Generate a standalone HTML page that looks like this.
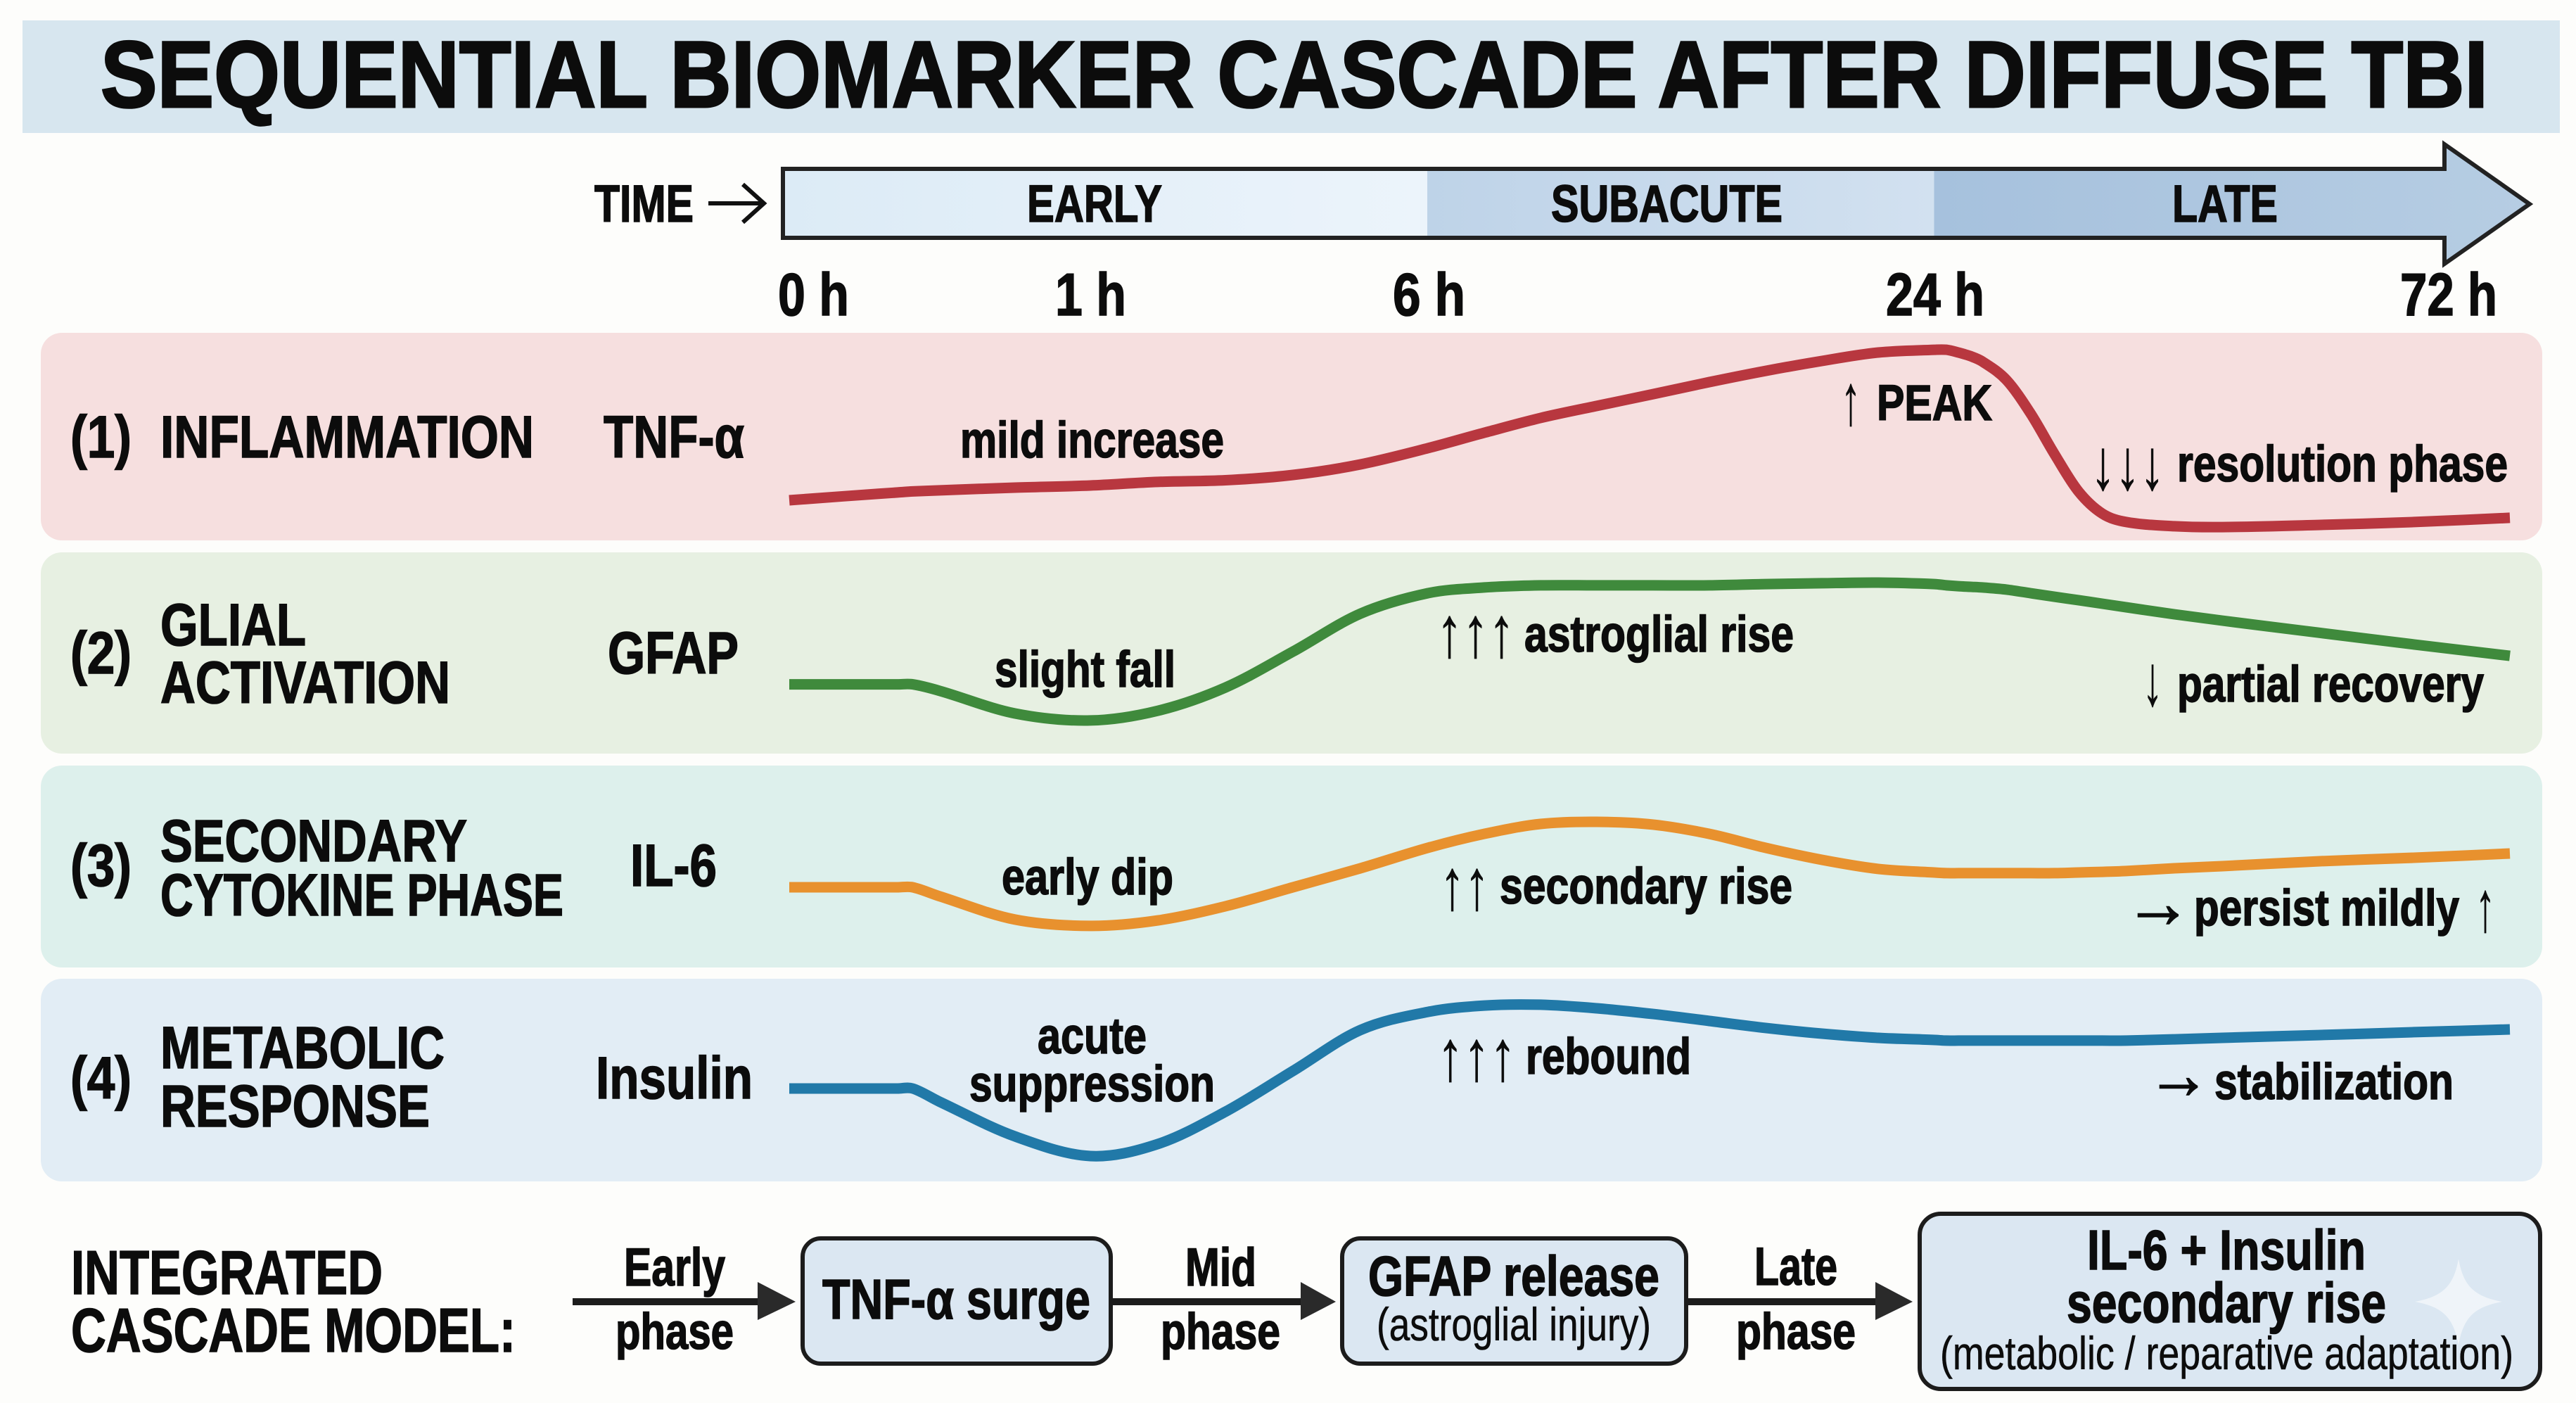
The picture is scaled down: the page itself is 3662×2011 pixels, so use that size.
<!DOCTYPE html>
<html lang="en">
<head>
<meta charset="utf-8">
<title>Sequential Biomarker Cascade After Diffuse TBI</title>
<style>
html,body{margin:0;padding:0;background:#fdfdfb;width:3662px;height:2011px;overflow:hidden}
svg{display:block;font-family:"Liberation Sans",Arial,sans-serif;font-weight:700;fill:#0c0c0c}
text{stroke:#0c0c0c;stroke-width:1.6px}
text.thin{font-weight:400;stroke-width:.6px}
text.big{stroke-width:3px}
</style>
</head>
<body>
<svg id="chart" xmlns="http://www.w3.org/2000/svg" width="3662" height="2011" viewBox="0 0 3662 2011">
<defs>
<linearGradient id="timeGrad" gradientUnits="userSpaceOnUse" x1="1113" y1="0" x2="3596" y2="0">
<stop offset="0" stop-color="#dcebf6"/><stop offset=".369" stop-color="#ecf4fb"/>
<stop offset=".369" stop-color="#bed3e8"/><stop offset=".659" stop-color="#d2e1f0"/>
<stop offset=".659" stop-color="#a6c1dd"/><stop offset="1" stop-color="#b6cde3"/>
</linearGradient>
</defs>
<rect x="0" y="0" width="3662" height="1994" fill="#fdfdfb"/>
<rect x="0" y="1994" width="3662" height="17" fill="#ffffff"/>
<rect x="32" y="29" width="3607" height="160" fill="#d7e6ef"/>
<text class="big" x="143" y="152" font-size="134" textLength="3394" lengthAdjust="spacingAndGlyphs">SEQUENTIAL BIOMARKER CASCADE AFTER DIFFUSE TBI</text>

<g>
<text x="845" y="315" font-size="74" textLength="141" lengthAdjust="spacingAndGlyphs">TIME</text>
<path d="M1007 289H1086M1056 262L1086 289L1056 316" fill="none" stroke="#111" stroke-width="6"/>
<path d="M1113 240H3475V205L3596 290L3475 375V338H1113Z" fill="url(#timeGrad)" stroke="#222" stroke-width="6"/>
<text x="1460" y="315" font-size="74" textLength="192" lengthAdjust="spacingAndGlyphs">EARLY</text>
<text x="2205" y="315" font-size="74" textLength="329" lengthAdjust="spacingAndGlyphs">SUBACUTE</text>
<text x="3088" y="315" font-size="74" textLength="150" lengthAdjust="spacingAndGlyphs">LATE</text>
<text x="1106" y="448" font-size="85" textLength="101" lengthAdjust="spacingAndGlyphs">0 h</text>
<text x="1500" y="448" font-size="85" textLength="101" lengthAdjust="spacingAndGlyphs">1 h</text>
<text x="1980" y="448" font-size="85" textLength="103" lengthAdjust="spacingAndGlyphs">6 h</text>
<text x="2681" y="448" font-size="85" textLength="140" lengthAdjust="spacingAndGlyphs">24 h</text>
<text x="3412" y="448" font-size="85" textLength="138" lengthAdjust="spacingAndGlyphs">72 h</text>
</g>

<rect x="58" y="473" width="3556" height="295" rx="30" fill="#f6dfdf"/>
<rect x="58" y="785" width="3556" height="286" rx="30" fill="#e7f0e2"/>
<rect x="58" y="1088" width="3556" height="287" rx="30" fill="#ddf0ec"/>
<rect x="58" y="1391" width="3556" height="288" rx="30" fill="#e2edf5"/>

<g id="curves"></g>

<g>
<text x="100" y="650" font-size="84" textLength="87" lengthAdjust="spacingAndGlyphs">(1)</text>
<text x="228" y="650" font-size="84" textLength="531" lengthAdjust="spacingAndGlyphs">INFLAMMATION</text>
<text x="858" y="650" font-size="84" textLength="200" lengthAdjust="spacingAndGlyphs">TNF-α</text>
<text x="1365" y="650" font-size="72" textLength="375" lengthAdjust="spacingAndGlyphs">mild increase</text>
<text class="thin" x="2617" y="603" font-size="102" textLength="28" lengthAdjust="spacingAndGlyphs">↑</text>
<text x="2668" y="597" font-size="71" textLength="164" lengthAdjust="spacingAndGlyphs">PEAK</text>
<text class="thin" x="2972" y="695" font-size="102" textLength="105" lengthAdjust="spacingAndGlyphs">↓↓↓</text>
<text x="3095" y="684" font-size="72" textLength="470" lengthAdjust="spacingAndGlyphs">resolution phase</text>
</g>

<g>
<text x="100" y="957" font-size="84" textLength="87" lengthAdjust="spacingAndGlyphs">(2)</text>
<text x="228" y="917" font-size="84" textLength="207" lengthAdjust="spacingAndGlyphs">GLIAL</text>
<text x="228" y="999" font-size="84" textLength="412" lengthAdjust="spacingAndGlyphs">ACTIVATION</text>
<text x="864" y="957" font-size="84" textLength="186" lengthAdjust="spacingAndGlyphs">GFAP</text>
<text x="1414" y="976" font-size="72" textLength="257" lengthAdjust="spacingAndGlyphs">slight fall</text>
<text class="thin" x="2042" y="933" font-size="102" textLength="111" lengthAdjust="spacingAndGlyphs">↑↑↑</text>
<text x="2167" y="926" font-size="72" textLength="383" lengthAdjust="spacingAndGlyphs">astroglial rise</text>
<text class="thin" x="3046" y="1002" font-size="102" textLength="28" lengthAdjust="spacingAndGlyphs">↓</text>
<text x="3095" y="997" font-size="72" textLength="436" lengthAdjust="spacingAndGlyphs">partial recovery</text>
</g>

<g>
<text x="100" y="1259" font-size="84" textLength="87" lengthAdjust="spacingAndGlyphs">(3)</text>
<text x="228" y="1224" font-size="84" textLength="436" lengthAdjust="spacingAndGlyphs">SECONDARY</text>
<text x="228" y="1301" font-size="84" textLength="573" lengthAdjust="spacingAndGlyphs">CYTOKINE PHASE</text>
<text x="896" y="1259" font-size="84" textLength="123" lengthAdjust="spacingAndGlyphs">IL-6</text>
<text x="1424" y="1271" font-size="72" textLength="244" lengthAdjust="spacingAndGlyphs">early dip</text>
<text class="thin" x="2047" y="1292" font-size="102" textLength="70" lengthAdjust="spacingAndGlyphs">↑↑</text>
<text x="2132" y="1284" font-size="72" textLength="416" lengthAdjust="spacingAndGlyphs">secondary rise</text>
<text x="3020" y="1318" font-size="104" textLength="96" lengthAdjust="spacingAndGlyphs">→</text>
<text x="3119" y="1315" font-size="72" textLength="377" lengthAdjust="spacingAndGlyphs">persist mildly</text>
<text class="thin" x="3519" y="1323" font-size="102" textLength="28" lengthAdjust="spacingAndGlyphs">↑</text>
</g>

<g>
<text x="100" y="1561" font-size="84" textLength="87" lengthAdjust="spacingAndGlyphs">(4)</text>
<text x="228" y="1518" font-size="84" textLength="404" lengthAdjust="spacingAndGlyphs">METABOLIC</text>
<text x="228" y="1601" font-size="84" textLength="383" lengthAdjust="spacingAndGlyphs">RESPONSE</text>
<text x="847" y="1561" font-size="84" textLength="223" lengthAdjust="spacingAndGlyphs">Insulin</text>
<text x="1475" y="1497" font-size="72" textLength="155" lengthAdjust="spacingAndGlyphs">acute</text>
<text x="1378" y="1565" font-size="72" textLength="349" lengthAdjust="spacingAndGlyphs">suppression</text>
<text class="thin" x="2043" y="1535" font-size="102" textLength="112" lengthAdjust="spacingAndGlyphs">↑↑↑</text>
<text x="2169" y="1526" font-size="72" textLength="235" lengthAdjust="spacingAndGlyphs">rebound</text>
<text x="3052" y="1561" font-size="100" textLength="90" lengthAdjust="spacingAndGlyphs">→</text>
<text x="3148" y="1562" font-size="72" textLength="340" lengthAdjust="spacingAndGlyphs">stabilization</text>
</g>

<g>
<text x="101" y="1839" font-size="88" textLength="443" lengthAdjust="spacingAndGlyphs">INTEGRATED</text>
<text x="101" y="1921" font-size="88" textLength="632" lengthAdjust="spacingAndGlyphs">CASCADE MODEL:</text>

<rect x="814" y="1845" width="270" height="10" fill="#1c1c1c"/>
<path d="M1077 1822L1131 1850L1077 1876Z" fill="#2a2a2a"/>
<text x="887" y="1827" font-size="76" textLength="144" lengthAdjust="spacingAndGlyphs">Early</text>
<text x="875" y="1917" font-size="72" textLength="168" lengthAdjust="spacingAndGlyphs">phase</text>

<rect x="1141" y="1760" width="438" height="178" rx="26" fill="#dbe7f2" stroke="#1c1c1c" stroke-width="6"/>
<text x="1169" y="1874" font-size="80" textLength="381" lengthAdjust="spacingAndGlyphs">TNF-α surge</text>

<rect x="1579" y="1845" width="276" height="10" fill="#1c1c1c"/>
<path d="M1849 1822L1899 1850L1849 1876Z" fill="#2a2a2a"/>
<text x="1685" y="1827" font-size="76" textLength="101" lengthAdjust="spacingAndGlyphs">Mid</text>
<text x="1650" y="1917" font-size="72" textLength="170" lengthAdjust="spacingAndGlyphs">phase</text>

<rect x="1908" y="1760" width="489" height="178" rx="26" fill="#dbe7f2" stroke="#1c1c1c" stroke-width="6"/>
<text x="1945" y="1841" font-size="80" textLength="414" lengthAdjust="spacingAndGlyphs">GFAP release</text>
<text class="thin" x="1957" y="1905" font-size="66" textLength="390" lengthAdjust="spacingAndGlyphs">(astroglial injury)</text>

<rect x="2395" y="1845" width="278" height="10" fill="#1c1c1c"/>
<path d="M2666 1822L2719 1850L2666 1876Z" fill="#2a2a2a"/>
<text x="2494" y="1826" font-size="76" textLength="118" lengthAdjust="spacingAndGlyphs">Late</text>
<text x="2468" y="1917" font-size="72" textLength="170" lengthAdjust="spacingAndGlyphs">phase</text>

<rect x="2729" y="1725" width="882" height="249" rx="30" fill="#dbe7f2" stroke="#1c1c1c" stroke-width="6"/>
<path d="M3495 1789C3502 1830 3520 1843 3557 1850C3520 1857 3502 1870 3495 1912C3488 1870 3470 1857 3433 1850C3470 1843 3488 1830 3495 1789Z" fill="#ffffff" fill-opacity=".55"/>
<text x="2967" y="1804" font-size="80" textLength="396" lengthAdjust="spacingAndGlyphs">IL-6 + Insulin</text>
<text x="2938" y="1879" font-size="80" textLength="454" lengthAdjust="spacingAndGlyphs">secondary rise</text>
<text class="thin" x="2758" y="1946" font-size="66" textLength="815" lengthAdjust="spacingAndGlyphs">(metabolic / reparative adaptation)</text>
</g>
</svg>
<script>
// Time since injury (hours) for each sampled point on the curves
const timeHours = [0,0.18,0.36,0.41,0.5,0.75,1,2,3,4,5,6,8,10,12,14,16,18,20,22,24,25,26,27,28,30,32,34,36,38,40,44,48,56,64,72];
// Tick hours anchoring the non-linear time axis
const tickHours = [0,1,6,24,72];
// Relative biomarker level per series (arbitrary units)
const tnfAlpha = [19,20.9,22.7,23.2,23.7,25,26,27.7,28.5,31,36,43.7,51,58,63.7,69.3,75,80.3,85,89,90.3,90.3,89,87.3,84.7,76,60.3,41,23.3,12.7,8.7,6.7,6.3,7.3,8.7,10.7];
const gfap = [32.8,32.8,32.8,32.8,29.7,19,15.7,20.3,31.3,48.3,66.3,76,78.7,79.7,79.7,79.7,79.7,80.3,80.7,81,80.3,79.7,79.3,79,78.7,77.7,76,74.3,72.7,71,69.3,66,63,57.3,51.7,46.3];
const il6 = [38,38,38,38,33.7,22.7,19.7,22.3,29,38,47,56.7,63.3,68,69,67.7,63.3,56.7,51,46.7,45,44.7,44.7,44.7,44.7,44.7,44.7,44.7,45,45.3,45.7,47,48,50.3,52,54];
const insulin = [44,44,44,44,37.7,21.3,12,17.7,33,52.3,71.7,80.3,83.3,83.7,82,79.3,76,72.7,70,68,67,66.7,66.7,66.7,66.7,66.7,66.7,66.7,66.7,66.7,66.7,67.3,68,69.3,70.7,72];

// Piecewise time axis: hours -> horizontal position
function xScale(h) {
  const range = [1122,1550,2030,2750,3568];
  let i = 0;
  while (i < tickHours.length - 2 && h > tickHours[i + 1]) i++;
  const t = (h - tickHours[i]) / (tickHours[i + 1] - tickHours[i]);
  return range[i] + t * (range[i + 1] - range[i]);
}
// Each row has its own level axis starting at the floor of its band
function yScale(level, floor) {
  return floor - level * 3;
}
function smoothPath(pts) {
  let d = 'M' + pts[0][0].toFixed(1) + ' ' + pts[0][1].toFixed(1);
  const slope = i => {
    const a = pts[Math.max(i - 1, 0)], b = pts[Math.min(i + 1, pts.length - 1)];
    return (b[1] - a[1]) / (b[0] - a[0]);
  };
  for (let i = 0; i < pts.length - 1; i++) {
    const p1 = pts[i], p2 = pts[i + 1];
    const dx = (p2[0] - p1[0]) / 3;
    const vals = [p1[0] + dx, p1[1] + slope(i) * dx, p2[0] - dx, p2[1] - slope(i + 1) * dx, p2[0], p2[1]];
    d += 'C' + vals.map(v => v.toFixed(1)).join(' ');
  }
  return d;
}
function drawCurve(name, values, floor, color) {
  const pts = timeHours.map((h, i) => [xScale(h), yScale(values[i], floor)]);
  const el = document.createElementNS('http://www.w3.org/2000/svg', 'path');
  el.setAttribute('d', smoothPath(pts));
  el.setAttribute('fill', 'none');
  el.setAttribute('stroke', color);
  el.setAttribute('stroke-width', '15');
  
  
  document.getElementById('curves').appendChild(el);
}
drawCurve('tnf-alpha-curve', tnfAlpha, 768, '#b8373f');
drawCurve('gfap-curve', gfap, 1071, '#3f8a3c');
drawCurve('il6-curve', il6, 1375, '#e8912e');
drawCurve('insulin-curve', insulin, 1679, '#2179a8');
</script>
</body>
</html>
